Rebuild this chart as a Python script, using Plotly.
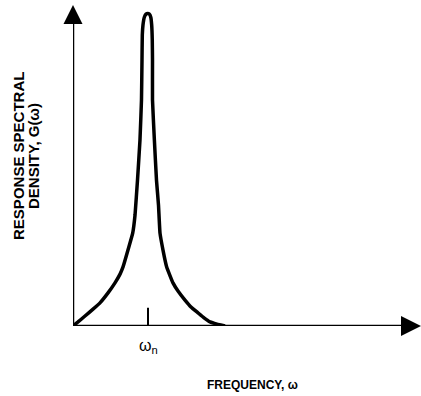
import plotly.graph_objects as go

# Curve (frequency in units of omega_n, density in arbitrary units, peak = 10)
frequency = [0.0, 0.067, 0.16, 0.267, 0.36, 0.467, 0.56, 0.627, 0.667, 0.733, 0.796, 0.827,
             0.86, 0.893, 0.913, 0.92, 0.924, 0.933, 0.951, 0.973, 0.996, 1.017, 1.037,
             1.049, 1.057, 1.06, 1.06, 1.085, 1.113, 1.14, 1.16, 1.2, 1.249, 1.333, 1.4,
             1.493, 1.573, 1.667, 1.747, 1.827, 1.92, 2.027]
density = [0.0, 0.13, 0.32, 0.54, 0.74, 1.06, 1.38, 1.66, 1.89, 2.43, 2.97, 3.55,
           4.67, 5.95, 7.23, 8.51, 9.31, 9.63, 9.88, 9.98, 10.0, 9.98, 9.88,
           9.63, 9.15, 8.51, 7.23, 5.95, 4.67, 3.87, 2.97, 2.43, 1.89, 1.38, 1.12,
           0.83, 0.61, 0.42, 0.26, 0.13, 0.06, 0.0]

x_max = 4.64
y_max = 10.27
tick_x = 1.0
tick_h = 0.58

fig = go.Figure()
# axes
fig.add_trace(go.Scatter(x=[0, x_max - 0.1], y=[0, 0], mode="lines",
                         line=dict(color="black", width=2.5), hoverinfo="skip", showlegend=False))
fig.add_trace(go.Scatter(x=[0, 0], y=[0, y_max - 0.3], mode="lines",
                         line=dict(color="black", width=2.5), hoverinfo="skip", showlegend=False))
# arrowheads
fig.add_trace(go.Scatter(x=[0], y=[y_max], mode="markers", cliponaxis=False,
                         marker=dict(symbol="arrow-up", size=19, color="black",
                                     line=dict(width=0)),
                         hoverinfo="skip", showlegend=False))
fig.add_trace(go.Scatter(x=[x_max], y=[0], mode="markers", cliponaxis=False,
                         marker=dict(symbol="arrow-right", size=20, color="black",
                                     line=dict(width=0)),
                         hoverinfo="skip", showlegend=False))
# response curve
fig.add_trace(go.Scatter(x=frequency, y=density, mode="lines", cliponaxis=False,
                         line=dict(color="black", width=3.5, shape="spline", smoothing=0.3),
                         hoverinfo="skip", showlegend=False))
# tick at omega_n
fig.add_trace(go.Scatter(x=[tick_x, tick_x], y=[0, tick_h], mode="lines",
                         line=dict(color="black", width=2), hoverinfo="skip", showlegend=False))

fig.update_layout(
    width=421, height=396,
    margin=dict(l=73, r=0, t=5, b=70),
    paper_bgcolor="white", plot_bgcolor="white",
    xaxis=dict(range=[0, x_max], visible=False, fixedrange=True),
    yaxis=dict(range=[0, y_max], visible=False, fixedrange=True),
    font=dict(family="Liberation Sans, Arial, sans-serif", color="black"),
)

fig.add_annotation(x=tick_x, y=0, xref="x", yref="y", yshift=-20, showarrow=False,
                   text="ω<sub>n</sub>", font=dict(size=16), xanchor="center", yanchor="middle")
fig.add_annotation(x=2.39, y=0, xref="x", yref="y", yshift=-59, showarrow=False,
                   text="<b>FREQUENCY, ω</b>", font=dict(size=12),
                   xanchor="center", yanchor="middle")
fig.add_annotation(x=0, y=5.44, xref="x", yref="y", xshift=-54, showarrow=False,
                   text="<b>RESPONSE SPECTRAL</b>", textangle=-90,
                   font=dict(size=15), xanchor="center", yanchor="middle")
fig.add_annotation(x=0, y=5.44, xref="x", yref="y", xshift=-39, showarrow=False,
                   text="<b>DENSITY, G(ω)</b>", textangle=-90,
                   font=dict(size=15), xanchor="center", yanchor="middle")

fig.write_html("out.html")
